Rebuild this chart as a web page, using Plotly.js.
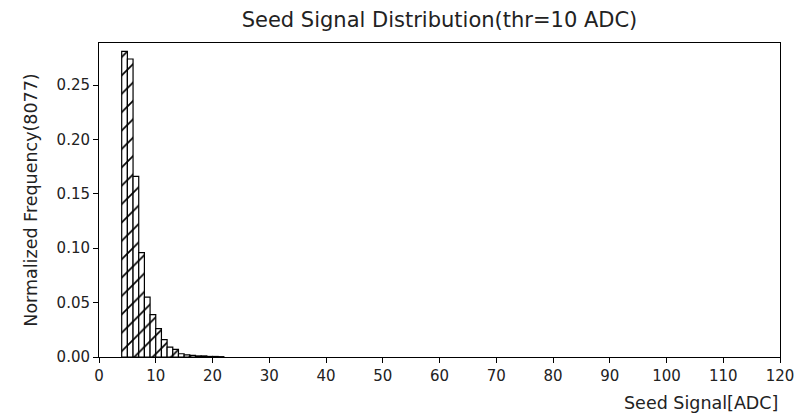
<!DOCTYPE html>
<html>
<head>
<meta charset="utf-8">
<script src="https://cdn.plot.ly/plotly-3.0.1.min.js"></script>
<style>html,body{margin:0;padding:0;background:#fff;}#chart{width:806px;height:416px;}</style>
</head>
<body>
<div id="chart"></div>
<script>
// Bin left edges (ADC) and normalized frequencies
const binStart = [4, 5, 6, 7, 8, 9, 10, 11, 12, 13, 14, 15, 16, 17, 18, 19, 20, 21];
const binWidth = [1, 1, 1, 1, 1, 1, 1, 1, 1, 1, 1, 1, 1, 1, 1, 1, 1, 1];
const freq = [0.281, 0.274, 0.166, 0.096, 0.055, 0.039, 0.026, 0.016, 0.009, 0.007, 0.003, 0.002, 0.0015, 0.001, 0.001, 0.0005, 0.0005, 0.0003];
const xTicks = [0, 10, 20, 30, 40, 50, 60, 70, 80, 90, 100, 110, 120];
const yTicks = [0, 0.05, 0.10, 0.15, 0.20, 0.25];

const font = "DejaVu Sans, sans-serif";
const trace = {
  type: 'bar',
  x: binStart,
  y: freq,
  width: binWidth,
  offset: 0,
  marker: {
    color: 'white',
    line: {color: 'black', width: 1.2},
    pattern: {shape: '/', fgcolor: 'black', bgcolor: 'white', size: 13, solidity: 0.13, fillmode: 'replace'}
  },
  hoverinfo: 'skip'
};
const layout = {
  width: 806, height: 416,
  margin: {l: 99, r: 26, t: 43, b: 59},
  paper_bgcolor: 'white', plot_bgcolor: 'white',
  showlegend: false,
  bargap: 0,
  font: {family: font, size: 15, color: '#222'},
  title: {text: 'Seed Signal Distribution(thr=10 ADC)', font: {family: font, size: 21, color: '#222'}, x: 0.5453, xanchor: 'center', y: 0.952, yanchor: 'middle'},
  xaxis: {
    range: [0, 120], tickvals: xTicks, ticktext: xTicks.map(String),
    showgrid: false, zeroline: false, showline: true, mirror: true, linecolor: 'black', linewidth: 1,
    ticks: 'outside', ticklen: 5, tickwidth: 1, tickcolor: 'black',
    tickfont: {family: font, size: 15, color: '#222'}
  },
  yaxis: {
    range: [0, 0.2887], tickvals: yTicks, ticktext: yTicks.map(v => v.toFixed(2)),
    showgrid: false, zeroline: false, showline: true, mirror: true, linecolor: 'black', linewidth: 1,
    ticks: 'outside', ticklen: 5, tickwidth: 1, tickcolor: 'black',
    tickfont: {family: font, size: 15, color: '#222'},
    title: {text: 'Normalized Frequency(8077)', font: {family: font, size: 17.5, color: '#222'}, standoff: 14}
  },
  annotations: [{
    text: 'Seed Signal[ADC]', xref: 'paper', yref: 'paper', x: 1, y: 0,
    xanchor: 'right', yanchor: 'top', yshift: -34, showarrow: false,
    font: {family: font, size: 17.5, color: '#222'}
  }]
};
Plotly.newPlot('chart', [trace], layout, {displayModeBar: false, staticPlot: true});
</script>
</body>
</html>
